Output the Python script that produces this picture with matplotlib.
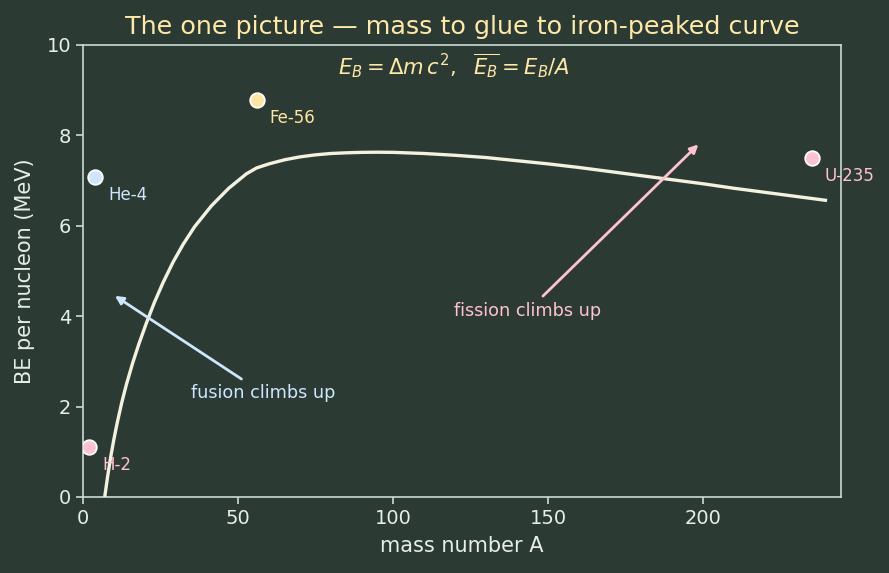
import matplotlib
matplotlib.use("Agg")
import matplotlib.pyplot as plt

# ---- data ----
curve_A = [7.0, 8.0, 9.0, 10.0, 11.0, 12.5, 14.0, 16.0, 18.0, 20.4, 23.0, 25.8, 29.0,
           32.3, 36.0, 41.4, 47.0, 52.7, 56.0, 60.0, 65.0, 70.0, 75.0, 80.0, 85.0,
           90.0, 95.0, 100.0, 110.0, 120.0, 130.0, 140.0, 150.0, 160.0, 170.0, 180.0,
           190.0, 200.0, 210.0, 220.0, 230.0, 240.0]
curve_BE = [0.00, 0.48, 0.91, 1.29, 1.63, 2.09, 2.49, 2.96, 3.38, 3.84, 4.30, 4.74, 5.19,
            5.59, 5.98, 6.44, 6.83, 7.15, 7.28, 7.37, 7.46, 7.525, 7.57, 7.60, 7.615,
            7.625, 7.628, 7.625, 7.60, 7.56, 7.51, 7.44, 7.37, 7.29, 7.20, 7.11,
            7.02, 6.93, 6.83, 6.74, 6.65, 6.56]

nuclide_names = ["H-2", "He-4", "Fe-56", "U-235"]
nuclide_A = [2, 4, 56, 235]
nuclide_BE = [1.11, 7.07, 8.79, 7.50]
nuclide_colors = ["#ffc2d1", "#cfe6ff", "#ffe6a0", "#ffc2d1"]

title = "The one picture \u2014 mass to glue to iron-peaked curve"
subtitle = r"$E_B = \Delta m\, c^2,\ \ \overline{E_B} = E_B / A$"
xlabel = "mass number A"
ylabel = "BE per nucleon (MeV)"
xticks = [0, 50, 100, 150, 200]
yticks = [0, 2, 4, 6, 8, 10]

fusion_text = "fusion climbs up"
fusion_xy = (10.3, 4.45)
fusion_xytext = (58, 2.3)
fission_text = "fission climbs up"
fission_xy = (198.5, 7.8)
fission_xytext = (143.5, 4.12)

# ---- styling ----
BG = "#2b3b33"
FG = "#e6eee8"
SPINE = "#c9ddd3"
CURVE = "#f4f1df"
TITLE_C = "#ffe9a6"

fig = plt.figure(figsize=(8.89, 5.73), dpi=100, facecolor=BG)
ax = fig.add_axes([83/889, 1-497/573, (841-83)/889, (497-45)/573])
ax.set_facecolor(BG)

ax.plot(curve_A, curve_BE, color=CURVE, lw=2.4, solid_capstyle="butt",
        solid_joinstyle="round", zorder=3)

for n, a, b, c in zip(nuclide_names, nuclide_A, nuclide_BE, nuclide_colors):
    ax.scatter([a], [b], s=110, color=c, edgecolors="white", linewidths=1.3, zorder=5)
    ax.annotate(n, (a, b), xytext=(9.5, -13), textcoords="offset points",
                ha="left", va="center", color=c, fontsize=12, zorder=6)

ax.annotate(fusion_text, xy=fusion_xy, xytext=fusion_xytext, textcoords="data",
            ha="center", va="center", color="#cfe6ff", fontsize=12.7,
            arrowprops=dict(arrowstyle="-|>", color="#cfe6ff", lw=2.0,
                            shrinkA=3, shrinkB=0, mutation_scale=12), zorder=4)
ax.annotate(fission_text, xy=fission_xy, xytext=fission_xytext, textcoords="data",
            ha="center", va="center", color="#ffc2d1", fontsize=12.7,
            arrowprops=dict(arrowstyle="-|>", color="#ffc2d1", lw=2.0,
                            shrinkA=3, shrinkB=0, mutation_scale=12), zorder=4)

ax.text(0.49, 0.985, subtitle, transform=ax.transAxes, ha="center", va="top",
        color=TITLE_C, fontsize=15.2)

ax.set_xlim(0, 244.5)
ax.set_ylim(0, 10)
ax.set_xticks(xticks)
ax.set_yticks(yticks)
ax.tick_params(colors=FG, labelsize=14, length=5, width=1.2, color=SPINE)
for s in ax.spines.values():
    s.set_color(SPINE)
    s.set_linewidth(1.2)
ax.set_xlabel(xlabel, color=FG, fontsize=15, labelpad=6)
ax.set_ylabel(ylabel, color=FG, fontsize=15, labelpad=8)
ax.set_title(title, color=TITLE_C, fontsize=18.3, pad=8)

fig.savefig("out.png", dpi=100, facecolor=BG)
